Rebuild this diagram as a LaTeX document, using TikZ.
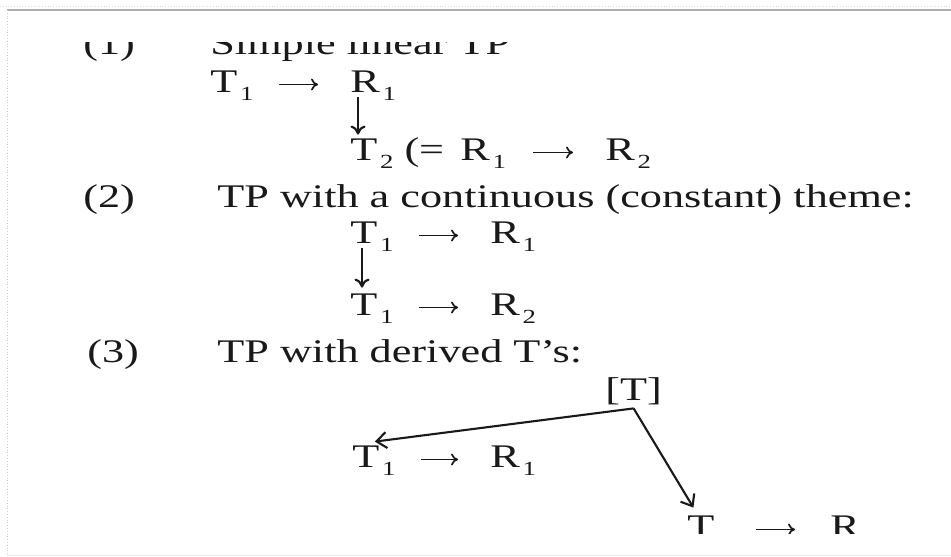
\documentclass[tikz,border=0pt]{standalone}
\usepackage{fontspec}
\setmainfont{Liberation Serif}[FakeStretch=1.34]
\usepackage{tikz}
\usetikzlibrary{arrows.meta}
\newcommand\lowidx[1]{\kern0.08em\raisebox{-0.27em}{\fontsize{10}{11}\selectfont #1}}

\begin{document}
\begin{tikzpicture}[x=0.5pt,y=-0.5pt,
  tok/.style={anchor=base west,inner sep=0pt,text height=11.5pt,text depth=4pt,font=\fontsize{16.5}{19}\selectfont,text=black!90},
  rarr/.style={-{To[length=3.5pt,width=6pt]},line width=0.85pt,shorten <=12.5pt,shorten >=16pt,black!90},
  darr/.style={-{To[length=4.5pt,width=7.5pt]},line width=1.1pt,black!90},
  tarr/.style={-{Straight Barb[length=5pt,width=8pt]},line width=1.05pt,black!90}]
\useasboundingbox (0,0) rectangle (951,556);
\fill[white] (0,0) rectangle (951,556);
% frame of the page
\draw[gray!25,densely dotted] (0,6)--(951,6);
\draw[gray!65,line width=0.8pt] (7,10)--(951,10);
\draw[gray!40,densely dotted] (7,10)--(7,556);
\draw[gray!15] (7,555)--(951,555);
\begin{scope}
\clip (0,43) rectangle (951,533);
% (1)
\node[tok] (lab1) at (83,55) {(1)};
\node[tok] (hd1) at (210,55) {Simple linear TP};
\node[tok] (aT1) at (210,92) {T\lowidx{1}};
\node[tok] (aR1) at (350,92) {R\lowidx{1}};
\node[tok] (aT2) at (350,160) {T\lowidx{2} (=};
\node[tok] (aR1b) at (460,160) {R\lowidx{1}};
\node[tok] (aR2) at (605,160) {R\lowidx{2}};
\draw[rarr] (aT1)--(aR1);
\draw[darr] ([xshift=4pt,yshift=1.5pt]aR1.south west)--([xshift=4pt,yshift=1pt]aT2.north west);
\draw[rarr,shorten <=13.5pt] (aR1b)--(aR2);
% (2)
\node[tok] (lab2) at (83,207) {(2)};
\node[tok] (hd2) at (217,207) {TP with a continuous (constant) theme:};
\node[tok] (bT1) at (350,243) {T\lowidx{1}};
\node[tok] (bR1) at (490,243) {R\lowidx{1}};
\node[tok] (bT1b) at (350,315) {T\lowidx{1}};
\node[tok] (bR2) at (490,315) {R\lowidx{2}};
\draw[rarr] (bT1)--(bR1);
\draw[darr] ([xshift=6pt,yshift=1.5pt]bT1.south west)--([xshift=6pt,yshift=2pt]bT1b.north west);
\draw[rarr] (bT1b)--(bR2);
% (3)
\node[tok] (lab3) at (87,362) {(3)};
\node[tok] (hd3) at (217,362) {TP with derived T’s:};
\node[tok] (cT) at (605,400) {[T]};
\node[tok] (cT1) at (352,467) {T\lowidx{1}};
\node[tok] (cR1) at (490,467) {R\lowidx{1}};
\node[tok] (dT) at (687,537) {T};
\node[tok] (dR) at (830,537) {R};
\draw[rarr] (cT1)--(cR1);
\draw[rarr,shorten <=20.5pt,shorten >=17.5pt] (dT)--(dR);
\draw[tarr] (cT.south)--([xshift=-10.5pt,yshift=1pt]cT1.north east);
\draw[tarr] (cT.south)--([xshift=-3.75pt,yshift=3pt]dT.north);
\end{scope}
\end{tikzpicture}
\end{document}
